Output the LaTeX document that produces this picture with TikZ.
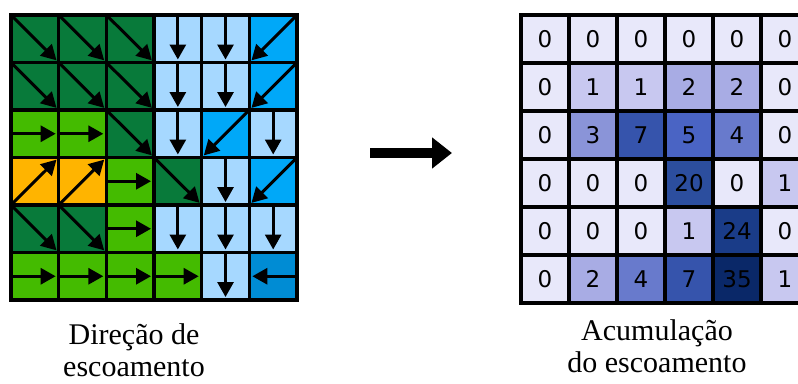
\documentclass[tikz,border=0pt]{standalone}
\usepackage{fontspec}
\setmainfont{Liberation Serif}
\newfontfamily\digitfont{DejaVu Sans}
\usepackage{tikz}
\usetikzlibrary{arrows.meta}
\usetikzlibrary{positioning}
\definecolor{sedark}{RGB}{8,122,58}
\definecolor{eastgreen}{RGB}{68,187,0}
\definecolor{neorange}{RGB}{255,180,0}
\definecolor{southblue}{RGB}{166,216,255}
\definecolor{swblue}{RGB}{0,168,248}
\definecolor{westblue}{RGB}{0,140,212}
\definecolor{acc0}{RGB}{232,232,250}
\definecolor{acc1}{RGB}{200,200,240}
\definecolor{acc2}{RGB}{168,172,228}
\definecolor{acc3}{RGB}{138,148,216}
\definecolor{acc4}{RGB}{104,122,204}
\definecolor{acc5}{RGB}{74,100,196}
\definecolor{acc7}{RGB}{54,84,172}
\definecolor{acc20}{RGB}{44,78,158}
\definecolor{acc24}{RGB}{26,60,136}
\definecolor{acc35}{RGB}{10,40,104}
\tikzstyle{flow}=[draw=black, line width=3pt, shorten >=3pt, -{Triangle[length=15pt,width=16pt]}]
\tikzstyle{dircell}=[draw=black, line width=3.2pt, inner sep=0pt, outer sep=0pt, minimum width=47.67pt, minimum height=47.5pt]
\tikzstyle{acccell}=[draw=black, line width=3.4pt, inner sep=0pt, outer sep=0pt, minimum size=48pt, font=\digitfont\fontsize{23}{26}\selectfont]
\tikzstyle{dSE}=[fill=sedark, path picture={
    \draw[flow] (path picture bounding box.north west) -- (path picture bounding box.south east);}]
\tikzstyle{dNE}=[fill=neorange, path picture={
    \draw[flow] (path picture bounding box.south west) -- (path picture bounding box.north east);}]
\tikzstyle{dSW}=[fill=swblue, path picture={
    \draw[flow] (path picture bounding box.north east) -- (path picture bounding box.south west);}]
\tikzstyle{dS}=[fill=southblue, path picture={
    \draw[flow] (path picture bounding box.north) -- (path picture bounding box.south);}]
\tikzstyle{dE}=[fill=eastgreen, path picture={
    \draw[flow] (path picture bounding box.west) -- (path picture bounding box.east);}]
\tikzstyle{dW}=[fill=westblue, path picture={
    \draw[flow] (path picture bounding box.east) -- (path picture bounding box.west);}]
\tikzstyle{caption}=[align=center, inner sep=0pt, font=\fontsize{30}{32}\selectfont]
\begin{document}
\begin{tikzpicture}[x=1pt,y=-1pt]
  \useasboundingbox[fill=white] (0,0) rectangle (798,383);
  % flow direction grid
  \foreach \row [count=\r] in {{dSE,dSE,dSE,dS,dS,dSW},{dSE,dSE,dSE,dS,dS,dSW},{dE,dE,dSE,dS,dSW,dS},
      {dNE,dNE,dE,dSE,dS,dSW},{dSE,dSE,dE,dS,dS,dS},{dE,dE,dE,dE,dS,dW}}
    \foreach \d [count=\c] in \row
      \node[dircell, \d] (d-\r-\c) at ({11+47.67*(\c-0.5)},{15+47.5*(\r-0.5)}) {};
  \draw[line width=3.2pt] (d-1-1.north west) rectangle (d-6-6.south east);
  % accumulation grid
  \foreach \row [count=\r] in {{0,0,0,0,0,0},{0,1,1,2,2,0},{0,3,7,5,4,0},
      {0,0,0,20,0,1},{0,0,0,1,24,0},{0,2,4,7,35,1}}
    \foreach \n [count=\c] in \row
      \node[acccell, fill=acc\n] (a-\r-\c) at ({521+48*(\c-0.5)},{15+48*(\r-0.5)}) {\n};
  \draw[line width=4.5pt] (a-1-1.north west) rectangle (a-6-6.south east);
  % arrow between grids
  \coordinate (arrS) at (370,153);
  \coordinate (arrE) at (452,153);
  \draw[line width=10pt, -{Triangle[length=20pt,width=30pt]}] (arrS) -- (arrE);
  \node[caption] (capL) at (134,350) {Direção de\\escoamento};
  \node[caption] (capR) at (657,346) {Acumulação\\do escoamento};
\end{tikzpicture}
\end{document}
